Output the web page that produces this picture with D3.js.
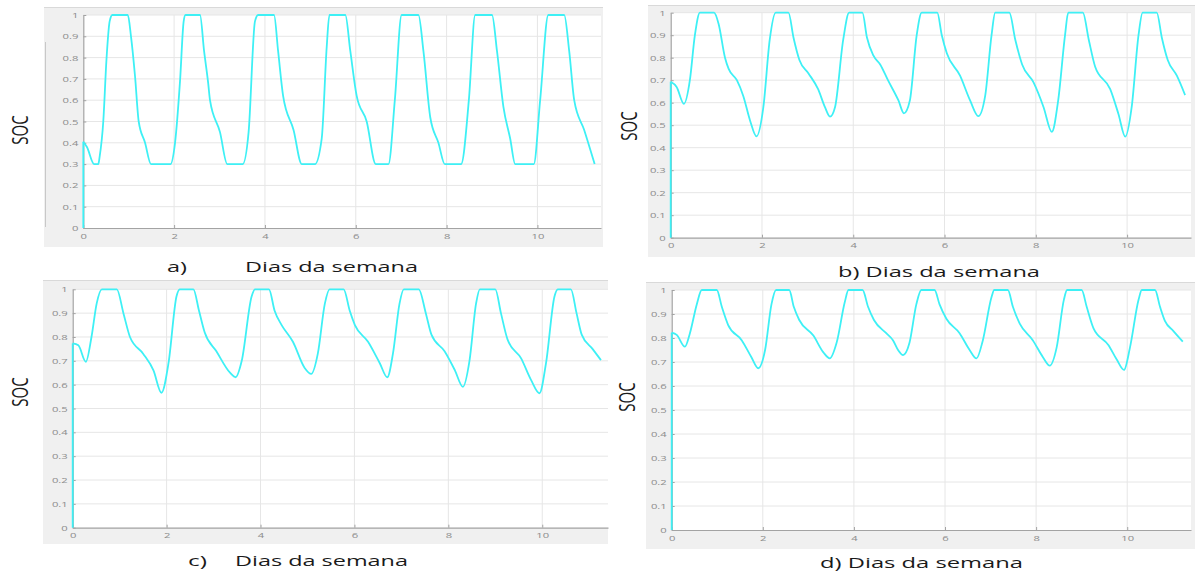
<!DOCTYPE html>
<html>
<head>
<meta charset="utf-8">
<script src="https://cdn.jsdelivr.net/npm/d3@7"></script>
<style>
  html, body { margin: 0; padding: 0; background: #ffffff; }
  svg { display: block; font-family: "Open Sans", "DejaVu Sans", sans-serif; }
</style>
</head>
<body>
<svg id="fig" width="1195" height="579"></svg>
<script>
// State of charge over the simulated week, four scenarios (a–d)
const daysA = [0, 0, 0.08, 0.24, 0.33, 0.36, 0.44, 0.51, 0.58, 0.64, 0.98, 1.05, 1.14, 1.22, 1.36, 1.49, 1.92, 2.02, 2.13, 2.21, 2.25, 2.57, 2.66, 2.75, 2.79, 3.01, 3.17, 3.51, 3.64, 3.78, 3.85, 4.20, 4.29, 4.40, 4.63, 4.81, 5.10, 5.25, 5.36, 5.42, 5.77, 5.88, 6.02, 6.24, 6.44, 6.72, 6.86, 7.01, 7.38, 7.49, 7.64, 7.82, 7.96, 8.32, 8.49, 8.63, 9.00, 9.11, 9.25, 9.40, 9.51, 9.92, 10.06, 10.24, 10.59, 10.70, 10.81, 11.03, 11.26];
const socA  = [0, 0.405, 0.38, 0.30, 0.30, 0.335, 0.50, 0.79, 0.97, 1, 1, 0.90, 0.71, 0.50, 0.40, 0.30, 0.30, 0.40, 0.69, 0.97, 1, 1, 0.83, 0.68, 0.60, 0.45, 0.30, 0.30, 0.45, 0.97, 1, 1, 0.83, 0.62, 0.46, 0.30, 0.30, 0.42, 0.85, 1, 1, 0.83, 0.62, 0.50, 0.30, 0.30, 0.60, 1, 1, 0.83, 0.52, 0.40, 0.30, 0.30, 0.60, 1, 1, 0.83, 0.57, 0.42, 0.30, 0.30, 0.60, 1, 1, 0.83, 0.60, 0.46, 0.30];

const daysB = [0, 0, 0.13, 0.29, 0.42, 0.53, 0.64, 0.95, 1.05, 1.19, 1.27, 1.45, 1.59, 1.74, 1.88, 2.03, 2.17, 2.30, 2.58, 2.69, 2.82, 3.02, 3.23, 3.38, 3.49, 3.60, 3.78, 3.91, 4.20, 4.30, 4.44, 4.59, 4.76, 4.99, 5.11, 5.24, 5.39, 5.50, 5.84, 5.94, 6.05, 6.34, 6.56, 6.74, 6.89, 7.03, 7.11, 7.42, 7.55, 7.70, 7.95, 8.17, 8.35, 8.49, 8.64, 8.71, 9.03, 9.16, 9.30, 9.63, 9.81, 9.96, 10.10, 10.25, 10.34, 10.65, 10.76, 10.89, 11.09, 11.27];
const socB  = [0, 0.693, 0.67, 0.595, 0.70, 0.90, 1, 1, 0.95, 0.80, 0.75, 0.70, 0.63, 0.52, 0.45, 0.58, 0.88, 1, 1, 0.89, 0.79, 0.73, 0.66, 0.58, 0.538, 0.58, 0.88, 1, 1, 0.89, 0.81, 0.77, 0.70, 0.61, 0.553, 0.61, 0.90, 1, 1, 0.90, 0.82, 0.72, 0.61, 0.54, 0.63, 0.90, 1, 1, 0.88, 0.77, 0.69, 0.58, 0.47, 0.61, 0.90, 1, 1, 0.88, 0.76, 0.66, 0.55, 0.449, 0.58, 0.90, 1, 1, 0.89, 0.79, 0.72, 0.634];

const daysC = [0, 0, 0.12, 0.28, 0.40, 0.51, 0.62, 0.94, 1.08, 1.22, 1.50, 1.72, 1.89, 2.04, 2.21, 2.28, 2.57, 2.69, 2.81, 3.06, 3.35, 3.47, 3.60, 3.81, 3.88, 4.18, 4.30, 4.45, 4.69, 4.94, 5.08, 5.22, 5.37, 5.47, 5.77, 5.90, 6.01, 6.29, 6.54, 6.70, 6.82, 6.96, 7.05, 7.37, 7.52, 7.64, 7.92, 8.14, 8.31, 8.45, 8.59, 8.67, 9.00, 9.12, 9.26, 9.55, 9.76, 9.94, 10.08, 10.26, 10.33, 10.61, 10.73, 10.84, 11.07, 11.25];
const socC  = [0, 0.773, 0.765, 0.696, 0.80, 0.94, 1, 1, 0.90, 0.80, 0.73, 0.66, 0.566, 0.69, 0.97, 1, 1, 0.91, 0.82, 0.74, 0.65, 0.631, 0.70, 0.97, 1, 1, 0.91, 0.85, 0.78, 0.67, 0.645, 0.73, 0.94, 1, 1, 0.91, 0.85, 0.78, 0.69, 0.631, 0.73, 0.94, 1, 1, 0.90, 0.81, 0.74, 0.66, 0.591, 0.70, 0.94, 1, 1, 0.90, 0.79, 0.71, 0.62, 0.564, 0.69, 0.97, 1, 1, 0.90, 0.81, 0.75, 0.703];

const daysD = [0, 0, 0.11, 0.29, 0.40, 0.55, 0.66, 0.99, 1.10, 1.24, 1.54, 1.75, 1.90, 2.05, 2.19, 2.29, 2.58, 2.68, 2.80, 3.11, 3.33, 3.47, 3.62, 3.80, 3.88, 4.19, 4.31, 4.44, 4.71, 4.86, 4.97, 5.08, 5.22, 5.37, 5.48, 5.77, 5.88, 6.03, 6.32, 6.54, 6.69, 6.83, 7.02, 7.08, 7.38, 7.49, 7.64, 7.93, 8.15, 8.30, 8.45, 8.61, 8.68, 9.00, 9.11, 9.26, 9.59, 9.77, 9.93, 10.06, 10.25, 10.32, 10.61, 10.72, 10.83, 11.01, 11.22];
const socD  = [0, 0.822, 0.813, 0.764, 0.82, 0.94, 1, 1, 0.93, 0.854, 0.79, 0.72, 0.674, 0.75, 0.94, 1, 1, 0.93, 0.875, 0.81, 0.74, 0.715, 0.78, 0.95, 1, 1, 0.93, 0.875, 0.82, 0.79, 0.75, 0.729, 0.78, 0.94, 1, 1, 0.94, 0.88, 0.82, 0.75, 0.715, 0.79, 0.97, 1, 1, 0.93, 0.86, 0.79, 0.72, 0.685, 0.76, 0.96, 1, 1, 0.93, 0.84, 0.77, 0.71, 0.667, 0.76, 0.96, 1, 1, 0.93, 0.87, 0.83, 0.785];

const socTicks = [0, 0.1, 0.2, 0.3, 0.4, 0.5, 0.6, 0.7, 0.8, 0.9, 1];
const socTickLabels = ["0", "0.1", "0.2", "0.3", "0.4", "0.5", "0.6", "0.7", "0.8", "0.9", "1"];
const dayTicks = [0, 2, 4, 6, 8, 10];
const dayTickLabels = ["0", "2", "4", "6", "8", "10"];
const dayMax = 11.4;

const yTitle = "SOC";
const xTitle = "Dias da semana";

// Panel geometry (pixels) and label placement
const panels = [
  { tag: "a)", days: daysA, soc: socA, bg: [44, 7, 603, 247],  plot: [83.3, 15, 601, 228],
    socPos: [20, 130], tagSplit: true, tagX: 167, tagW: 20, titleX: 245, titleW: 173, titleY: 272, edgeRule: true },
  { tag: "b)", days: daysB, soc: socB, bg: [648, 5, 1195, 257], plot: [670.7, 12.7, 1191, 237.7],
    socPos: [629, 126], tagSplit: false, titleX: 838, titleW: 202, titleY: 277 },
  { tag: "c)", days: daysC, soc: socC, bg: [43, 280, 608, 544], plot: [72.7, 289.3, 608, 527.7],
    socPos: [20, 392], tagSplit: true, tagX: 188, tagW: 19, titleX: 235, titleW: 173, titleY: 566 },
  { tag: "d)", days: daysD, soc: socD, bg: [646, 282, 1195, 549], plot: [671.7, 290, 1191, 530],
    socPos: [627, 397], tagSplit: false, titleX: 820, titleW: 203, titleY: 568 }
];

const stretch = 1.4;          // horizontal stretch of the lettering
const lineColor = "#3ef0f5";

const svg = d3.select("#fig");

panels.forEach(p => {
  const g = svg.append("g");

  // figure background band
  g.append("rect")
    .attr("x", p.bg[0]).attr("y", p.bg[1])
    .attr("width", p.bg[2] - p.bg[0]).attr("height", p.bg[3] - p.bg[1])
    .attr("fill", "#f0f0f0");
  g.append("line")
    .attr("x1", p.bg[0]).attr("x2", p.bg[2])
    .attr("y1", p.bg[1] + 0.5).attr("y2", p.bg[1] + 0.5)
    .attr("stroke", "#d9d9d9").attr("stroke-width", 1.2);

  if (p.edgeRule) {
    g.append("line")
      .attr("x1", p.bg[0] + 1.5).attr("x2", p.bg[0] + 1.5)
      .attr("y1", 42).attr("y2", 227)
      .attr("stroke", "#c8c8c8").attr("stroke-width", 1);
  }

  const x = d3.scaleLinear().domain([0, dayMax]).range([p.plot[0], p.plot[2]]);
  const y = d3.scaleLinear().domain([0, 1]).range([p.plot[3], p.plot[1]]);

  // white axes area
  g.append("rect")
    .attr("x", x(0)).attr("y", y(1))
    .attr("width", x(dayMax) - x(0)).attr("height", y(0) - y(1))
    .attr("fill", "#ffffff");

  // grid
  g.append("g").selectAll("line").data(socTicks.filter(v => v > 0)).join("line")
    .attr("x1", x(0)).attr("x2", x(dayMax))
    .attr("y1", d => y(d)).attr("y2", d => y(d))
    .attr("stroke", "#e6e6e6").attr("stroke-width", 1);
  g.append("g").selectAll("line").data(dayTicks.filter(v => v > 0)).join("line")
    .attr("x1", d => x(d)).attr("x2", d => x(d))
    .attr("y1", y(0)).attr("y2", y(1))
    .attr("stroke", "#e6e6e6").attr("stroke-width", 1);

  // axes
  const yAxis = d3.axisLeft(y).tickValues(socTicks)
    .tickFormat((d, i) => socTickLabels[i])
    .tickSizeInner(-3).tickSizeOuter(0).tickPadding(5);
  const xAxis = d3.axisBottom(x).tickValues(dayTicks)
    .tickFormat((d, i) => dayTickLabels[i])
    .tickSizeInner(-3).tickSizeOuter(0).tickPadding(5);

  const ya = g.append("g").attr("transform", `translate(${x(0)},0)`).call(yAxis);
  const xa = g.append("g").attr("transform", `translate(0,${y(0)})`).call(xAxis);
  [ya, xa].forEach(a => {
    a.select(".domain").attr("stroke", "#a3a3a3").attr("stroke-width", 1.2);
    a.selectAll(".tick line").attr("stroke", "#a3a3a3");
    a.selectAll(".tick text")
      .attr("fill", "#8c8c8c")
      .attr("font-size", 8)
      .attr("font-family", "\"Open Sans\", sans-serif");
  });
  // stretch tick lettering about its anchor
  ya.selectAll(".tick text").each(function () {
    const t = d3.select(this);
    const tx = +t.attr("x");
    t.attr("x", 0).attr("transform", `translate(${tx},0) scale(${stretch},1)`);
  });
  xa.selectAll(".tick text").attr("transform", `scale(${stretch},1)`);

  // SOC trace
  const pts = p.days.map((d, i) => [d, p.soc[i]]);
  const startLine = d3.line().x(d => x(d[0])).y(d => y(d[1]));
  const traceLine = d3.line().x(d => x(d[0])).y(d => y(d[1])).curve(d3.curveMonotoneX);
  g.append("path").attr("d", startLine(pts.slice(0, 2)))
    .attr("fill", "none").attr("stroke", lineColor).attr("stroke-width", 1.8);
  g.append("path").attr("d", traceLine(pts.slice(1)))
    .attr("fill", "none").attr("stroke", lineColor).attr("stroke-width", 1.8)
    .attr("stroke-linejoin", "round");

  // y title
  g.append("text")
    .attr("transform", `translate(${p.socPos[0]},${p.socPos[1]}) scale(${stretch},1) rotate(-90)`)
    .attr("text-anchor", "middle")
    .attr("dominant-baseline", "central")
    .attr("font-size", 15)
    .attr("fill", "#1a1a1a")
    .text(yTitle);

  // x title with panel tag
  if (p.tagSplit) {
    g.append("text")
      .attr("x", p.tagX).attr("y", p.titleY)
      .attr("font-size", 14).attr("fill", "#1a1a1a")
      .attr("textLength", p.tagW).attr("lengthAdjust", "spacingAndGlyphs")
      .text(p.tag);
    g.append("text")
      .attr("x", p.titleX).attr("y", p.titleY)
      .attr("font-size", 14).attr("fill", "#1a1a1a")
      .attr("textLength", p.titleW).attr("lengthAdjust", "spacingAndGlyphs")
      .text(xTitle);
  } else {
    g.append("text")
      .attr("x", p.titleX).attr("y", p.titleY)
      .attr("font-size", 14).attr("fill", "#1a1a1a")
      .attr("textLength", p.titleW).attr("lengthAdjust", "spacingAndGlyphs")
      .text(`${p.tag} ${xTitle}`);
  }
});
</script>
</body>
</html>
